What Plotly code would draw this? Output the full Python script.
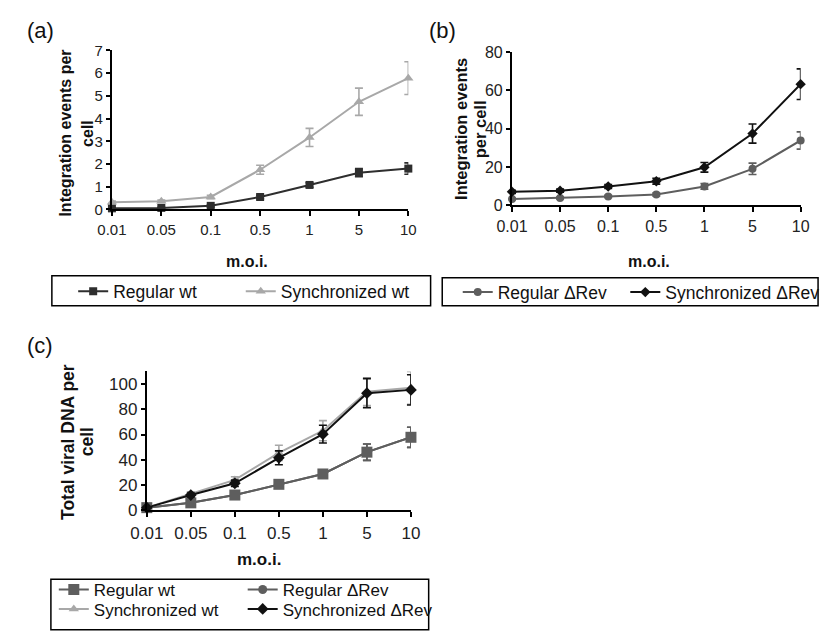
import plotly.graph_objects as go

W, H = 829, 632

# ---------------- data ----------------
moi = ["0.01", "0.05", "0.1", "0.5", "1", "5", "10"]

# (a) integration events per cell
a_regular_wt = [0.05, 0.07, 0.16, 0.55, 1.08, 1.62, 1.80]
a_regular_wt_err = [0.02, 0.03, 0.05, 0.07, 0.10, 0.18, 0.25]
a_sync_wt = [0.32, 0.36, 0.55, 1.75, 3.17, 4.74, 5.78]
a_sync_wt_err = [0.05, 0.05, 0.07, 0.20, 0.40, 0.60, 0.72]

# (b) integration events per cell
b_regular_drev = [3.2, 3.8, 4.6, 5.6, 9.8, 19.0, 33.8]
b_regular_drev_err = [0.5, 0.5, 0.6, 0.8, 1.5, 3.0, 4.5]
b_sync_drev = [7.0, 7.6, 9.8, 12.5, 19.8, 37.4, 63.2]
b_sync_drev_err = [0.8, 0.8, 1.0, 1.5, 2.5, 5.0, 8.0]

# (c) total viral DNA per cell
c_regular_wt = [2.0, 5.8, 12.0, 20.5, 28.7, 46.0, 57.8]
c_regular_wt_err = [0.5, 1.0, 1.5, 2.0, 3.0, 6.5, 8.0]
c_regular_drev = [2.0, 5.8, 12.0, 20.5, 28.7, 46.0, 57.8]
c_regular_drev_err = [0.5, 1.0, 1.5, 2.0, 3.0, 6.5, 8.0]
c_sync_wt = [2.0, 13.0, 24.0, 45.5, 63.0, 94.0, 97.0]
c_sync_wt_err = [0.5, 1.5, 2.5, 6.0, 8.0, 11.0, 13.0]
c_sync_drev = [2.0, 12.0, 21.3, 41.5, 60.3, 92.8, 95.4]
c_sync_drev_err = [0.5, 1.5, 2.5, 5.5, 7.0, 11.5, 12.0]

FONT = "Liberation Sans, Arial, sans-serif"
DARK = "#2e2e2e"
LIGHT = "#a8a8a8"
MID = "#5e5e5e"
BLACK = "#111111"


def px(x):
    return x / W


def py(y):
    return 1 - y / H


fig = go.Figure()


def add(x_ax, y_ax, y, err, name, color, symbol, size, legend):
    fig.add_trace(go.Scatter(
        x=moi, y=y, name=name, mode="lines+markers",
        xaxis=x_ax, yaxis=y_ax, legend=legend, showlegend=True,
        line=dict(color=color, width=2),
        marker=dict(symbol=symbol, size=size, color=color),
        error_y=dict(type="data", array=err, visible=True, color=color,
                     thickness=1.6, width=4),
        cliponaxis=False,
    ))


# (a)
add("x", "y", a_regular_wt, a_regular_wt_err, "Regular wt", DARK, "square", 8, "legend")
add("x", "y", a_sync_wt, a_sync_wt_err, "Synchronized wt", LIGHT, "triangle-up", 9, "legend2")
# (b)
add("x2", "y2", b_regular_drev, b_regular_drev_err, "Regular ΔRev", MID, "circle", 8, "legend3")
add("x2", "y2", b_sync_drev, b_sync_drev_err, "Synchronized ΔRev", BLACK, "diamond", 8, "legend4")
# (c)
add("x3", "y3", c_regular_drev, c_regular_drev_err, "Regular ΔRev", MID, "circle", 9, "legend6")
add("x3", "y3", c_regular_wt, c_regular_wt_err, "Regular wt", MID, "square", 11, "legend5")
add("x3", "y3", c_sync_wt, c_sync_wt_err, "Synchronized wt", LIGHT, "triangle-up", 9, "legend7")
add("x3", "y3", c_sync_drev, c_sync_drev_err, "Synchronized ΔRev", BLACK, "diamond", 9, "legend8")


def xaxis(dom, anchor, fs):
    return dict(domain=dom, anchor=anchor, type="category", range=[0, 6],
                showline=True, linecolor="black", linewidth=2,
                ticks="outside", ticklen=5, tickwidth=1.5, tickcolor="black",
                showgrid=False, zeroline=False, ticklabelstandoff=1,
                tickfont=dict(family=FONT, size=fs, color="#222"))


def yaxis(dom, anchor, rng, dtick, fs):
    return dict(domain=dom, anchor=anchor, range=rng, dtick=dtick, tick0=0,
                showline=True, linecolor="black", linewidth=2,
                ticks="outside", ticklen=4, tickwidth=1.5, tickcolor="black",
                showgrid=False, zeroline=False,
                tickfont=dict(family=FONT, size=fs, color="#222"))


layout = dict(
    width=W, height=H, autosize=False, showlegend=True,
    margin=dict(l=0, r=0, t=0, b=0),
    paper_bgcolor="white", plot_bgcolor="white",
    font=dict(family=FONT, color="#111"),
    xaxis=xaxis([px(98), px(404)], "y", 15),
    yaxis=yaxis([py(206.7), py(42.7)], "x", [0, 7], 1, 15),
    xaxis2=xaxis([px(511), px(809)], "y2", 16),
    yaxis2=yaxis([py(202.3), py(44.3)], "x2", [0, 80], 20, 16),
    xaxis3=xaxis([px(134), px(406.7)], "y3", 17),
    yaxis3=yaxis([py(516.7), py(373.7)], "x3", [0, 110], 20, 17),
)

# legends: one per entry so the layout of the boxed keys can be matched
leg_pos = {
    "legend": (58, 291, 17.5), "legend2": (231, 291, 17.5),
    "legend3": (455, 292, 17.5), "legend4": (628, 292, 17.5),
    "legend5": (38, 599, 17), "legend7": (38, 619, 17),
    "legend6": (233, 599, 17), "legend8": (233, 619, 17),
}
for k, (lx, ly, fs) in leg_pos.items():
    layout[k] = dict(x=px(lx), y=py(ly), xanchor="left", yanchor="middle",
                     bgcolor="rgba(0,0,0,0)", borderwidth=0,
                     itemwidth=30, orientation="v",
                     font=dict(family=FONT, size=fs, color="#111"))

fig.update_layout(**layout)

# legend boxes
for (x0, y0, x1, y1) in [(36, 275, 427, 306), (439, 277, 827, 306), (35, 588, 425, 640)]:
    fig.add_shape(type="rect", xref="paper", yref="paper",
                  x0=px(x0), x1=px(x1), y0=py(y1), y1=py(y0),
                  line=dict(color="black", width=1.5), fillcolor="rgba(0,0,0,0)")

ann = []
# panel labels
for t, x, y in [("(a)", 24, 22), ("(b)", 439, 22), ("(c)", 24, 347)]:
    ann.append(dict(text=t, x=px(x), y=py(y), xref="paper", yref="paper",
                    showarrow=False, font=dict(family=FONT, size=22, color="#111"),
                    xanchor="center", yanchor="middle"))
# x titles
for x, y, fs in [(237, 260, 16), (652, 260, 16), (250, 568, 17)]:
    ann.append(dict(text="<b>m.o.i.</b>", x=px(x), y=py(y), xref="paper", yref="paper",
                    showarrow=False, font=dict(family=FONT, size=fs, color="#111"),
                    xanchor="center", yanchor="middle"))
# y titles (one annotation per text line)
for t, x, y, fs in [("Integration events per", 50, 128, 16), ("cell", 72, 128, 16),
                    ("Integration events", 459, 124, 16.5), ("per cell", 478, 124, 16.5),
                    ("Total viral DNA per", 52, 446, 17.5), ("cell", 72, 446, 17.5)]:
    ann.append(dict(text="<b>" + t + "</b>", x=px(x), y=py(y), xref="paper", yref="paper",
                    showarrow=False, textangle=-90,
                    font=dict(family=FONT, size=fs, color="#111"),
                    xanchor="center", yanchor="middle"))
fig.update_layout(annotations=ann)

fig.write_html("out.html", config={"displayModeBar": False},
               post_script="document.body.style.margin='0';document.body.style.padding='0';")
